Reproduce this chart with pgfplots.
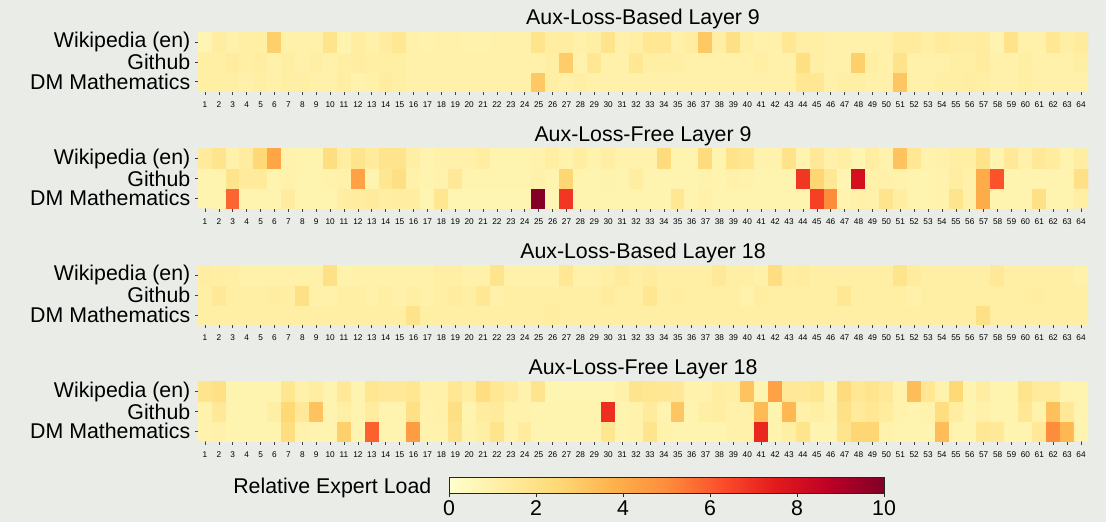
\documentclass[border=0pt]{standalone}
\usepackage{pgfplots}
\pgfplotsset{compat=1.18}
\usepackage{fontspec}
\setmainfont{Liberation Sans}
\usetikzlibrary{calc}
\definecolor{bg}{RGB}{233,236,231}
\pgfplotsset{
  colormap={ylorrd}{rgb255=(255,255,204) rgb255=(255,237,160) rgb255=(254,217,118) rgb255=(254,178,76) rgb255=(253,141,60) rgb255=(252,78,42) rgb255=(227,26,28) rgb255=(189,0,38) rgb255=(128,0,38)},
  heat/.style={
    anchor=north west,
    scale only axis, width=667.5pt, height=44.6pt,
    xmin=0.5, xmax=64.5, ymin=-0.5, ymax=2.5,
    enlargelimits=false,
    axis line style={draw=none},
    xtick={1,...,64}, ytick={0,1,2},
    yticklabels={DM Mathematics,Github,Wikipedia (en)},
    xtick pos=left, ytick pos=left,
    tick align=outside, major tick length=2.6pt,
    tick style={draw=black!75, line width=0.5pt},
    x tick label style={font=\fontsize{6.2}{7}\selectfont, yshift=-1.5pt},
    y tick label style={font=\fontsize{16}{18}\selectfont, inner xsep=3pt},
    /pgf/number format/assume math mode=true,
    point meta min=0, point meta max=10,
    every axis title/.style={at={(0.5,1)}, anchor=base, yshift=5.5pt, font=\fontsize{16}{18}\selectfont},
  },
}
\begin{document}
\begin{tikzpicture}
\fill[bg] (0,0) rectangle (829.5pt,-391.5pt);
\path[use as bounding box] (0,0) rectangle (829.5pt,-391.5pt);

% Aux-Loss-Based Layer 9
\begin{axis}[heat, at={(148.5pt,-24.2pt)}, title={Aux-Loss-Based Layer 9}]
\addplot[matrix plot*, mesh/cols=64, point meta=explicit] coordinates {
(1,0)[1.1] (2,0)[1.1] (3,0)[1.1] (4,0)[1.0] (5,0)[1.1] (6,0)[1.0] (7,0)[1.1] (8,0)[1.1] (9,0)[1.0] (10,0)[1.0] (11,0)[1.2] (12,0)[0.9] (13,0)[1.0] (14,0)[1.3] (15,0)[1.1] (16,0)[1.0]
(17,0)[1.0] (18,0)[1.0] (19,0)[1.0] (20,0)[1.0] (21,0)[1.0] (22,0)[1.0] (23,0)[1.0] (24,0)[1.0] (25,0)[3.0] (26,0)[1.1] (27,0)[1.0] (28,0)[1.1] (29,0)[1.0] (30,0)[1.0] (31,0)[1.0] (32,0)[1.0]
(33,0)[1.0] (34,0)[1.0] (35,0)[1.0] (36,0)[1.0] (37,0)[1.0] (38,0)[1.0] (39,0)[1.0] (40,0)[1.0] (41,0)[1.0] (42,0)[1.0] (43,0)[1.0] (44,0)[1.6] (45,0)[1.6] (46,0)[1.0] (47,0)[1.1] (48,0)[1.1]
(49,0)[1.0] (50,0)[1.0] (51,0)[3.1] (52,0)[1.0] (53,0)[1.0] (54,0)[1.1] (55,0)[1.1] (56,0)[1.2] (57,0)[1.1] (58,0)[1.0] (59,0)[1.0] (60,0)[1.1] (61,0)[1.0] (62,0)[1.0] (63,0)[1.0] (64,0)[1.0]
(1,1)[1.1] (2,1)[1.1] (3,1)[1.3] (4,1)[1.1] (5,1)[1.2] (6,1)[1.0] (7,1)[1.1] (8,1)[1.0] (9,1)[1.1] (10,1)[1.0] (11,1)[1.1] (12,1)[1.2] (13,1)[1.1] (14,1)[1.1] (15,1)[1.1] (16,1)[1.0]
(17,1)[1.0] (18,1)[1.0] (19,1)[1.0] (20,1)[1.0] (21,1)[1.0] (22,1)[1.0] (23,1)[1.0] (24,1)[1.0] (25,1)[1.0] (26,1)[1.1] (27,1)[2.9] (28,1)[0.9] (29,1)[1.6] (30,1)[1.0] (31,1)[1.0] (32,1)[1.6]
(33,1)[1.1] (34,1)[1.1] (35,1)[1.1] (36,1)[1.0] (37,1)[1.0] (38,1)[1.0] (39,1)[1.0] (40,1)[1.0] (41,1)[1.1] (42,1)[1.0] (43,1)[1.0] (44,1)[2.1] (45,1)[1.1] (46,1)[1.0] (47,1)[1.0] (48,1)[2.8]
(49,1)[1.1] (50,1)[1.0] (51,1)[1.9] (52,1)[1.0] (53,1)[1.0] (54,1)[1.0] (55,1)[1.1] (56,1)[1.1] (57,1)[1.3] (58,1)[1.0] (59,1)[1.0] (60,1)[1.1] (61,1)[1.0] (62,1)[1.0] (63,1)[1.0] (64,1)[1.1]
(1,2)[0.7] (2,2)[1.2] (3,2)[1.0] (4,2)[1.1] (5,2)[1.1] (6,2)[2.8] (7,2)[1.0] (8,2)[1.0] (9,2)[1.0] (10,2)[1.8] (11,2)[0.8] (12,2)[1.2] (13,2)[1.0] (14,2)[1.3] (15,2)[1.6] (16,2)[1.0]
(17,2)[0.9] (18,2)[1.0] (19,2)[1.0] (20,2)[0.9] (21,2)[0.9] (22,2)[1.0] (23,2)[1.0] (24,2)[1.0] (25,2)[1.8] (26,2)[1.2] (27,2)[1.2] (28,2)[1.0] (29,2)[1.1] (30,2)[1.8] (31,2)[1.0] (32,2)[1.1]
(33,2)[1.6] (34,2)[1.6] (35,2)[1.0] (36,2)[1.2] (37,2)[3.0] (38,2)[1.1] (39,2)[2.0] (40,2)[1.1] (41,2)[1.0] (42,2)[1.0] (43,2)[1.6] (44,2)[1.1] (45,2)[1.1] (46,2)[1.0] (47,2)[1.0] (48,2)[1.0]
(49,2)[1.0] (50,2)[1.0] (51,2)[1.4] (52,2)[1.4] (53,2)[1.1] (54,2)[1.4] (55,2)[1.2] (56,2)[1.2] (57,2)[1.3] (58,2)[0.8] (59,2)[1.9] (60,2)[1.0] (61,2)[1.0] (62,2)[1.6] (63,2)[1.1] (64,2)[1.4]
};
\end{axis}

% Aux-Loss-Free Layer 9
\begin{axis}[heat, at={(148.5pt,-111.5pt)}, title={Aux-Loss-Free Layer 9}]
\addplot[matrix plot*, mesh/cols=64, point meta=explicit] coordinates {
(1,0)[0.8] (2,0)[0.8] (3,0)[5.8] (4,0)[0.8] (5,0)[0.8] (6,0)[0.8] (7,0)[1.3] (8,0)[0.8] (9,0)[0.8] (10,0)[0.8] (11,0)[1.2] (12,0)[1.3] (13,0)[1.4] (14,0)[1.1] (15,0)[1.2] (16,0)[1.2]
(17,0)[0.7] (18,0)[1.7] (19,0)[0.7] (20,0)[0.7] (21,0)[0.7] (22,0)[0.7] (23,0)[0.7] (24,0)[0.7] (25,0)[9.9] (26,0)[0.7] (27,0)[6.8] (28,0)[0.8] (29,0)[0.8] (30,0)[0.8] (31,0)[0.8] (32,0)[0.8]
(33,0)[0.8] (34,0)[0.8] (35,0)[1.6] (36,0)[0.8] (37,0)[1.0] (38,0)[0.8] (39,0)[0.8] (40,0)[0.8] (41,0)[0.8] (42,0)[0.8] (43,0)[0.8] (44,0)[0.8] (45,0)[6.6] (46,0)[5.0] (47,0)[0.8] (48,0)[1.0]
(49,0)[1.0] (50,0)[1.8] (51,0)[1.2] (52,0)[0.8] (53,0)[0.8] (54,0)[0.9] (55,0)[1.8] (56,0)[1.0] (57,0)[4.0] (58,0)[0.8] (59,0)[0.8] (60,0)[0.8] (61,0)[2.0] (62,0)[0.8] (63,0)[0.8] (64,0)[1.1]
(1,1)[0.8] (2,1)[0.8] (3,1)[1.8] (4,1)[1.4] (5,1)[1.4] (6,1)[0.8] (7,1)[0.9] (8,1)[0.8] (9,1)[0.8] (10,1)[0.9] (11,1)[1.0] (12,1)[4.3] (13,1)[0.8] (14,1)[1.7] (15,1)[2.1] (16,1)[1.0]
(17,1)[0.8] (18,1)[0.9] (19,1)[1.5] (20,1)[0.8] (21,1)[0.8] (22,1)[0.8] (23,1)[0.8] (24,1)[0.8] (25,1)[1.0] (26,1)[0.8] (27,1)[2.6] (28,1)[0.8] (29,1)[0.8] (30,1)[0.9] (31,1)[0.8] (32,1)[1.2]
(33,1)[0.8] (34,1)[0.8] (35,1)[0.8] (36,1)[0.8] (37,1)[0.9] (38,1)[0.8] (39,1)[1.0] (40,1)[0.9] (41,1)[0.8] (42,1)[0.8] (43,1)[0.8] (44,1)[6.8] (45,1)[2.6] (46,1)[1.6] (47,1)[0.7] (48,1)[8.0]
(49,1)[1.0] (50,1)[1.0] (51,1)[0.9] (52,1)[0.8] (53,1)[0.8] (54,1)[0.9] (55,1)[1.2] (56,1)[1.0] (57,1)[4.0] (58,1)[6.2] (59,1)[0.8] (60,1)[0.8] (61,1)[0.8] (62,1)[0.8] (63,1)[0.8] (64,1)[2.0]
(1,2)[1.4] (2,2)[1.8] (3,2)[1.0] (4,2)[1.3] (5,2)[2.5] (6,2)[4.2] (7,2)[0.9] (8,2)[0.8] (9,2)[0.8] (10,2)[2.2] (11,2)[1.2] (12,2)[1.8] (13,2)[1.4] (14,2)[1.8] (15,2)[1.8] (16,2)[1.1]
(17,2)[0.8] (18,2)[1.0] (19,2)[1.0] (20,2)[1.0] (21,2)[1.2] (22,2)[0.8] (23,2)[0.8] (24,2)[0.8] (25,2)[0.9] (26,2)[1.2] (27,2)[0.9] (28,2)[1.2] (29,2)[0.9] (30,2)[1.1] (31,2)[0.9] (32,2)[0.9]
(33,2)[0.9] (34,2)[2.3] (35,2)[0.8] (36,2)[0.8] (37,2)[2.3] (38,2)[0.8] (39,2)[1.9] (40,2)[1.7] (41,2)[0.9] (42,2)[0.9] (43,2)[1.9] (44,2)[0.8] (45,2)[1.5] (46,2)[1.0] (47,2)[1.1] (48,2)[0.7]
(49,2)[1.2] (50,2)[0.9] (51,2)[3.2] (52,2)[1.6] (53,2)[0.9] (54,2)[1.0] (55,2)[1.1] (56,2)[1.1] (57,2)[1.9] (58,2)[0.8] (59,2)[1.5] (60,2)[1.0] (61,2)[1.5] (62,2)[1.3] (63,2)[0.8] (64,2)[1.2]
};
\end{axis}

% Aux-Loss-Based Layer 18
\begin{axis}[heat, at={(148.5pt,-199pt)}, title={Aux-Loss-Based Layer 18}]
\addplot[matrix plot*, mesh/cols=64, point meta=explicit] coordinates {
(1,0)[1.1] (2,0)[1.1] (3,0)[1.1] (4,0)[1.1] (5,0)[1.1] (6,0)[1.1] (7,0)[1.1] (8,0)[1.1] (9,0)[1.1] (10,0)[1.1] (11,0)[1.1] (12,0)[1.1] (13,0)[1.1] (14,0)[1.1] (15,0)[1.1] (16,0)[1.9]
(17,0)[1.1] (18,0)[1.1] (19,0)[1.1] (20,0)[1.1] (21,0)[1.1] (22,0)[1.1] (23,0)[1.1] (24,0)[1.1] (25,0)[1.1] (26,0)[1.2] (27,0)[1.1] (28,0)[1.1] (29,0)[1.1] (30,0)[1.1] (31,0)[1.1] (32,0)[1.1]
(33,0)[1.1] (34,0)[1.1] (35,0)[1.1] (36,0)[1.1] (37,0)[1.1] (38,0)[1.1] (39,0)[1.1] (40,0)[1.1] (41,0)[1.1] (42,0)[1.1] (43,0)[1.1] (44,0)[1.1] (45,0)[1.1] (46,0)[1.1] (47,0)[1.1] (48,0)[1.1]
(49,0)[1.1] (50,0)[1.1] (51,0)[1.1] (52,0)[1.1] (53,0)[1.1] (54,0)[1.1] (55,0)[1.1] (56,0)[1.1] (57,0)[2.0] (58,0)[1.1] (59,0)[1.1] (60,0)[1.1] (61,0)[1.1] (62,0)[1.1] (63,0)[1.1] (64,0)[1.1]
(1,1)[1.1] (2,1)[1.5] (3,1)[1.1] (4,1)[1.1] (5,1)[1.1] (6,1)[1.2] (7,1)[1.1] (8,1)[2.0] (9,1)[1.0] (10,1)[1.0] (11,1)[1.1] (12,1)[1.1] (13,1)[1.0] (14,1)[1.1] (15,1)[1.0] (16,1)[1.1]
(17,1)[1.0] (18,1)[1.1] (19,1)[1.3] (20,1)[1.1] (21,1)[1.6] (22,1)[1.0] (23,1)[1.1] (24,1)[1.1] (25,1)[1.1] (26,1)[1.1] (27,1)[1.1] (28,1)[1.1] (29,1)[1.1] (30,1)[1.3] (31,1)[1.1] (32,1)[1.1]
(33,1)[1.7] (34,1)[1.1] (35,1)[1.2] (36,1)[1.1] (37,1)[1.1] (38,1)[1.1] (39,1)[1.1] (40,1)[0.9] (41,1)[1.2] (42,1)[1.1] (43,1)[1.1] (44,1)[1.1] (45,1)[1.1] (46,1)[1.1] (47,1)[1.6] (48,1)[1.1]
(49,1)[1.1] (50,1)[1.1] (51,1)[1.1] (52,1)[1.0] (53,1)[1.1] (54,1)[1.1] (55,1)[1.1] (56,1)[1.1] (57,1)[1.1] (58,1)[1.1] (59,1)[1.1] (60,1)[1.1] (61,1)[1.2] (62,1)[1.1] (63,1)[1.1] (64,1)[1.1]
(1,2)[1.2] (2,2)[1.1] (3,2)[1.1] (4,2)[1.0] (5,2)[1.0] (6,2)[1.0] (7,2)[1.0] (8,2)[1.0] (9,2)[1.0] (10,2)[2.0] (11,2)[0.9] (12,2)[1.0] (13,2)[1.0] (14,2)[1.0] (15,2)[1.0] (16,2)[1.0]
(17,2)[1.0] (18,2)[1.1] (19,2)[1.1] (20,2)[1.0] (21,2)[1.0] (22,2)[1.8] (23,2)[1.0] (24,2)[1.0] (25,2)[1.0] (26,2)[1.0] (27,2)[1.6] (28,2)[1.0] (29,2)[1.0] (30,2)[1.1] (31,2)[1.4] (32,2)[1.1]
(33,2)[1.3] (34,2)[1.1] (35,2)[1.1] (36,2)[1.1] (37,2)[1.1] (38,2)[1.5] (39,2)[1.1] (40,2)[1.1] (41,2)[1.0] (42,2)[2.2] (43,2)[1.2] (44,2)[1.3] (45,2)[1.1] (46,2)[1.1] (47,2)[1.1] (48,2)[1.1]
(49,2)[1.1] (50,2)[1.1] (51,2)[1.8] (52,2)[1.3] (53,2)[1.1] (54,2)[1.1] (55,2)[1.1] (56,2)[1.1] (57,2)[1.1] (58,2)[1.5] (59,2)[1.1] (60,2)[1.1] (61,2)[1.1] (62,2)[1.1] (63,2)[1.1] (64,2)[1.0]
};
\end{axis}

% Aux-Loss-Free Layer 18, with the colour bar
\begin{axis}[heat, at={(148.5pt,-286.3pt)}, title={Aux-Loss-Free Layer 18},
  colorbar horizontal,
  colorbar style={
    at={($(parent axis.south west)+(188.25pt,-18.65pt)$)}, anchor=north west,
    scale only axis, width=326.25pt, height=11.7pt,
    xtick={0,2,4,6,8,10}, xtick pos=left,
    tick align=outside, major tick length=3pt,
    tick style={draw=black!85, line width=0.5pt},
    axis line style={draw=black!85, line width=0.5pt},
    x tick label style={font=\fontsize{16}{18}\selectfont, inner sep=2.5pt},
    /pgf/number format/assume math mode=true,
  }]
\addplot[matrix plot*, mesh/cols=64, point meta=explicit] coordinates {
(1,0)[0.9] (2,0)[1.0] (3,0)[0.8] (4,0)[0.8] (5,0)[0.8] (6,0)[0.8] (7,0)[2.2] (8,0)[0.9] (9,0)[0.8] (10,0)[0.8] (11,0)[2.8] (12,0)[0.8] (13,0)[5.9] (14,0)[0.8] (15,0)[0.8] (16,0)[4.5]
(17,0)[0.9] (18,0)[0.9] (19,0)[1.9] (20,0)[0.9] (21,0)[1.1] (22,0)[1.8] (23,0)[0.9] (24,0)[1.3] (25,0)[0.8] (26,0)[0.8] (27,0)[0.8] (28,0)[0.8] (29,0)[0.8] (30,0)[1.7] (31,0)[0.8] (32,0)[0.9]
(33,0)[1.8] (34,0)[0.9] (35,0)[0.8] (36,0)[0.8] (37,0)[0.8] (38,0)[0.8] (39,0)[1.0] (40,0)[1.0] (41,0)[7.2] (42,0)[0.8] (43,0)[1.1] (44,0)[1.8] (45,0)[0.8] (46,0)[0.8] (47,0)[1.8] (48,0)[2.6]
(49,0)[2.6] (50,0)[0.9] (51,0)[0.8] (52,0)[0.8] (53,0)[0.8] (54,0)[3.4] (55,0)[0.8] (56,0)[0.8] (57,0)[1.6] (58,0)[1.5] (59,0)[0.8] (60,0)[0.8] (61,0)[1.5] (62,0)[5.0] (63,0)[3.6] (64,0)[0.8]
(1,1)[0.9] (2,1)[1.5] (3,1)[0.8] (4,1)[0.8] (5,1)[0.8] (6,1)[1.1] (7,1)[2.5] (8,1)[1.5] (9,1)[3.2] (10,1)[0.8] (11,1)[1.1] (12,1)[0.8] (13,1)[1.3] (14,1)[0.8] (15,1)[0.8] (16,1)[2.0]
(17,1)[0.9] (18,1)[1.0] (19,1)[2.1] (20,1)[0.8] (21,1)[1.3] (22,1)[1.4] (23,1)[0.9] (24,1)[0.9] (25,1)[0.8] (26,1)[0.8] (27,1)[0.8] (28,1)[0.8] (29,1)[0.8] (30,1)[7.0] (31,1)[0.8] (32,1)[0.9]
(33,1)[1.4] (34,1)[0.8] (35,1)[3.1] (36,1)[0.8] (37,1)[1.1] (38,1)[1.2] (39,1)[1.0] (40,1)[1.0] (41,1)[3.5] (42,1)[0.8] (43,1)[3.6] (44,1)[1.0] (45,1)[1.1] (46,1)[0.9] (47,1)[2.0] (48,1)[1.4]
(49,1)[1.6] (50,1)[1.3] (51,1)[0.9] (52,1)[0.8] (53,1)[0.9] (54,1)[2.2] (55,1)[1.2] (56,1)[0.8] (57,1)[1.0] (58,1)[0.8] (59,1)[0.8] (60,1)[1.6] (61,1)[0.9] (62,1)[3.3] (63,1)[1.5] (64,1)[0.8]
(1,2)[1.8] (2,2)[2.0] (3,2)[0.8] (4,2)[0.8] (5,2)[0.8] (6,2)[0.8] (7,2)[1.7] (8,2)[1.0] (9,2)[1.2] (10,2)[0.8] (11,2)[1.5] (12,2)[0.8] (13,2)[1.7] (14,2)[1.5] (15,2)[1.5] (16,2)[1.7]
(17,2)[1.0] (18,2)[1.0] (19,2)[1.6] (20,2)[1.2] (21,2)[2.2] (22,2)[1.6] (23,2)[1.3] (24,2)[0.9] (25,2)[1.8] (26,2)[0.7] (27,2)[0.7] (28,2)[0.7] (29,2)[0.7] (30,2)[0.7] (31,2)[1.0] (32,2)[1.8]
(33,2)[1.7] (34,2)[1.6] (35,2)[1.5] (36,2)[0.9] (37,2)[0.9] (38,2)[1.2] (39,2)[1.1] (40,2)[3.2] (41,2)[0.8] (42,2)[4.3] (43,2)[1.5] (44,2)[1.5] (45,2)[1.7] (46,2)[0.8] (47,2)[2.3] (48,2)[1.6]
(49,2)[1.8] (50,2)[1.5] (51,2)[0.9] (52,2)[3.4] (53,2)[1.6] (54,2)[0.9] (55,2)[2.5] (56,2)[0.8] (57,2)[1.2] (58,2)[0.8] (59,2)[0.8] (60,2)[1.8] (61,2)[1.4] (62,2)[1.4] (63,2)[0.8] (64,2)[0.8]
};
\end{axis}

\node[anchor=base east, font=\fontsize{16}{18}\selectfont] at (327pt,-369.9pt) {Relative Expert Load};
\end{tikzpicture}
\end{document}
